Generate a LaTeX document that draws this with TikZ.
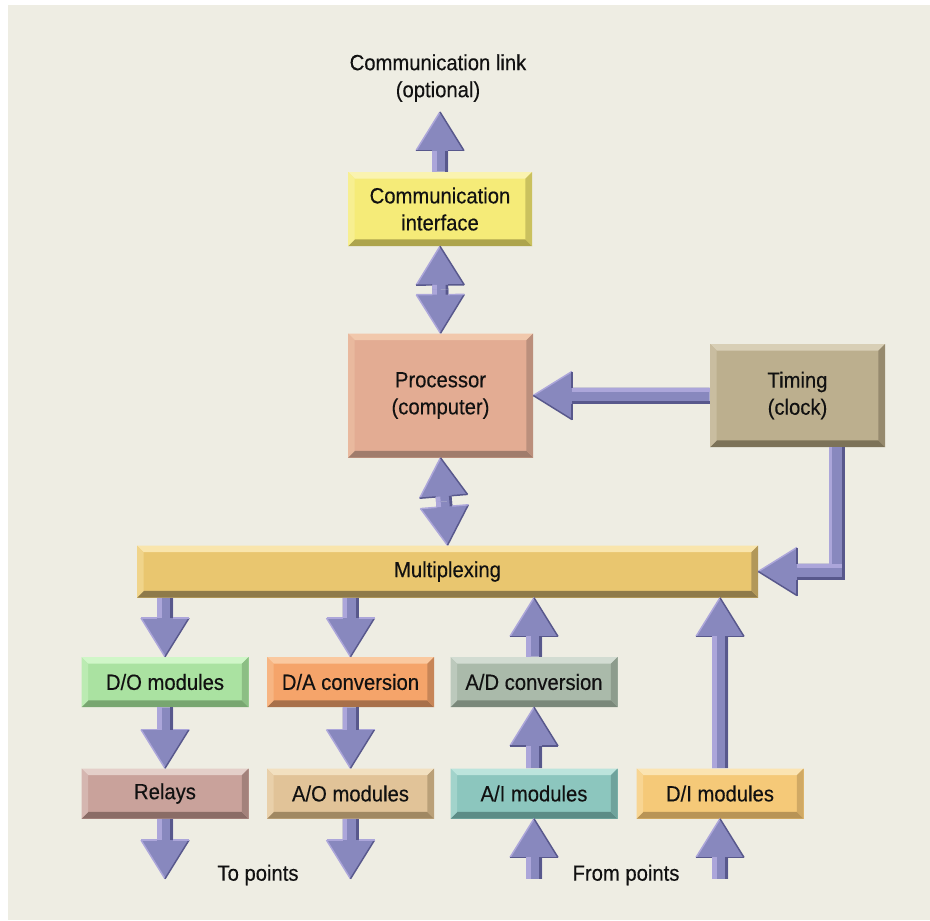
\documentclass[tikz,border=0pt]{standalone}
\usepackage{fontspec}
\setmainfont{Liberation Sans}[FakeStretch=0.92, FakeBold=0.35]
\usetikzlibrary{calc}

% palette
\definecolor{bg}{HTML}{EEEDE3}
\definecolor{ink}{HTML}{111111}
\definecolor{arrM}{HTML}{8888BE}
\definecolor{arrL}{HTML}{ACA6DA}
\definecolor{arrD}{HTML}{58588C}
\definecolor{commM}{HTML}{F5EB78}\definecolor{commL}{HTML}{FAF3B0}\definecolor{commD}{HTML}{ADA44C}
\definecolor{procM}{HTML}{E3AC93}\definecolor{procL}{HTML}{F1C8AC}\definecolor{procD}{HTML}{A07C6C}
\definecolor{timM}{HTML}{BCAF8E}\definecolor{timL}{HTML}{D8CFB6}\definecolor{timD}{HTML}{7C7258}
\definecolor{muxM}{HTML}{E9C66F}\definecolor{muxL}{HTML}{F9E5AC}\definecolor{muxD}{HTML}{8E7A4A}
\definecolor{doM}{HTML}{AAE2A1}\definecolor{doL}{HTML}{D0F6C8}\definecolor{doD}{HTML}{78A670}
\definecolor{daM}{HTML}{F5A46A}\definecolor{daL}{HTML}{FAC9A0}\definecolor{daD}{HTML}{A8704A}
\definecolor{adM}{HTML}{AABAAA}\definecolor{adL}{HTML}{D2DCD2}\definecolor{adD}{HTML}{7A887A}
\definecolor{relM}{HTML}{C9A29B}\definecolor{relL}{HTML}{E4CFC9}\definecolor{relD}{HTML}{8A6C66}
\definecolor{aoM}{HTML}{E1C398}\definecolor{aoL}{HTML}{F2E0C0}\definecolor{aoD}{HTML}{A08862}
\definecolor{aiM}{HTML}{8CC6BE}\definecolor{aiL}{HTML}{BCE4DC}\definecolor{aiD}{HTML}{5C8C86}
\definecolor{diM}{HTML}{F5C978}\definecolor{diL}{HTML}{FBE4B2}\definecolor{diD}{HTML}{B89456}

\newcommand\boxfont{\fontsize{16.5}{20.25}\selectfont}

\tikzset{
  % bevelled block: #1 face, #2 top bevel, #3 bottom bevel
  bevelbox/.style n args={3}{
    fill=#1, inner sep=0pt, align=center, font=\boxfont, text=ink,
    minimum width=125.25pt, minimum height=37.5pt,
    path picture={
      \fill[#2] (path picture bounding box.north west) -- (path picture bounding box.north east)
        -- ([shift={(-5pt,-5pt)}]path picture bounding box.north east)
        -- ([shift={(5pt,-5pt)}]path picture bounding box.north west) -- cycle;
      \fill[#3] (path picture bounding box.south west) -- (path picture bounding box.south east)
        -- ([shift={(-5pt,5pt)}]path picture bounding box.south east)
        -- ([shift={(5pt,5pt)}]path picture bounding box.south west) -- cycle;
      \fill[#2!45!#1] (path picture bounding box.north west)
        -- ([shift={(5pt,-5pt)}]path picture bounding box.north west)
        -- ([shift={(5pt,5pt)}]path picture bounding box.south west)
        -- (path picture bounding box.south west) -- cycle;
      \fill[#3!60!#1] (path picture bounding box.north east)
        -- ([shift={(-5pt,-5pt)}]path picture bounding box.north east)
        -- ([shift={(-5pt,5pt)}]path picture bounding box.south east)
        -- (path picture bounding box.south east) -- cycle;
    }},
  label text/.style={font=\boxfont, text=ink, inner sep=0pt, align=center},
  arrowfill/.style={fill=arrM},
  arrowlight/.style={fill=arrL, draw=none},
  arrowdark/.style={fill=arrD, draw=none},
}

% block arrow from #1 to tip #2; #3 = angle of the lit side, #4 = its opposite,
% #5 = colour of the edge along the base of the head
\newcommand\blockarrow[5]{%
  \coordinate (bahb) at ($(#2)!29pt!(#1)$);
  \fill[arrowfill] ($(#1)!6pt!#3:(#2)$) -- ($(bahb)!6pt!#4:(#1)$) -- ($(bahb)!18pt!#4:(#1)$)
    -- (#2) -- ($(bahb)!18pt!#3:(#1)$) -- ($(bahb)!6pt!#3:(#1)$) -- ($(#1)!6pt!#4:(#2)$) -- cycle;
  \fill[arrowlight] ($(#1)!6pt!#3:(#2)$) -- ($(bahb)!6pt!#4:(#1)$) -- ($(bahb)!2.5pt!#4:(#1)$)
    -- ($(#1)!2.5pt!#3:(#2)$) -- cycle;
  \fill[arrowdark] ($(#1)!6pt!#4:(#2)$) -- ($(bahb)!6pt!#3:(#1)$) -- ($(bahb)!4pt!#3:(#1)$)
    -- ($(#1)!4pt!#4:(#2)$) -- cycle;
  \draw[arrL, line width=1.1pt] ($(bahb)!18pt!#4:(#1)$) -- (#2);
  \draw[arrD, line width=1.1pt] ($(bahb)!18pt!#3:(#1)$) -- (#2);
  \draw[#5, line width=1.1pt] ($(bahb)!6pt!#4:(#1)$) -- ($(bahb)!18pt!#4:(#1)$)
    ($(bahb)!6pt!#3:(#1)$) -- ($(bahb)!18pt!#3:(#1)$);
}
\newcommand\uparrowblock[2]{\blockarrow{#1}{#2}{90}{-90}{arrD}}
\newcommand\downarrowblock[2]{\blockarrow{#1}{#2}{-90}{90}{arrL}}
\newcommand\leftarrowblock[2]{\blockarrow{#1}{#2}{-90}{90}{arrD}}

\begin{document}
\begin{tikzpicture}[x=0.75pt, y=-0.75pt]
  % canvas
  \useasboundingbox (0,0) rectangle (930,920);
  \fill[white] (0,0) rectangle (930,920);
  \fill[bg] (8,5) rectangle (930,920);

  % blocks
  \node[bevelbox={commM}{commL}{commD}, minimum width=138pt, minimum height=55.5pt]
    (comm) at (440,209) {Communication\\interface};
  \node[bevelbox={procM}{procL}{procD}, minimum width=138.75pt, minimum height=93pt]
    (proc) at (440.5,395.5) {Processor\\(computer)};
  \node[bevelbox={timM}{timL}{timD}, minimum width=131.25pt, minimum height=77.25pt]
    (timing) at (797.5,395.5) {Timing\\(clock)};
  \node[bevelbox={muxM}{muxL}{muxD}, minimum width=465.75pt, minimum height=39pt]
    (mux) at (447.5,571.5) {Multiplexing};

  \node[bevelbox={doM}{doL}{doD}] (do) at (165,682) {D/O modules};
  \node[bevelbox={daM}{daL}{daD}] (da) at (350.5,682) {D/A conversion};
  \node[bevelbox={adM}{adL}{adD}] (ad) at (534,682) {A/D conversion};

  \node[bevelbox={relM}{relL}{relD}] (relays) at (165,793.5) {Relays};
  \node[bevelbox={aoM}{aoL}{aoD}] (ao) at (350.5,793.5) {A/O modules};
  \node[bevelbox={aiM}{aiL}{aiD}] (ai) at (534,793.5) {A/I modules};
  \node[bevelbox={diM}{diL}{diD}] (di) at (720,793.5) {D/I modules};

  % free labels
  \node[label text] (link) at (438,78) {Communication link\\(optional)};
  \node[label text] (topoints) at (258,875) {To points};
  \node[label text] (frompoints) at (626,875) {From points};

  % helper points
  \coordinate (linktip) at (440,112);
  \coordinate (m1) at ($(comm.south)!0.5!(proc.north)$);
  \coordinate (m2) at ($(proc.south)!0.5!(mux.north)$);
  \coordinate (doin) at (do.north |- mux.south);
  \coordinate (dain) at (da.north |- mux.south);
  \coordinate (adout) at (ad.north |- mux.south);
  \coordinate (diout) at (di.north |- mux.south);
  \coordinate (relout) at ([yshift=-45pt]relays.south);
  \coordinate (aoout) at ([yshift=-45pt]ao.south);
  \coordinate (aiin) at ([yshift=-45pt]ai.south);
  \coordinate (diin) at ([yshift=-45pt]di.south);
  \coordinate (tdrop) at ([xshift=29.6pt]timing.south);
  \coordinate (tcorner) at (tdrop |- mux.east);
  \coordinate (tturn) at ([xshift=6pt]tcorner);

  % processor link chain
  \uparrowblock{comm.north}{linktip}
  \uparrowblock{m1}{comm.south}
  \downarrowblock{m1}{proc.north}
  \uparrowblock{m2}{proc.south}
  \downarrowblock{m2}{mux.north}

  % clock feeds
  \leftarrowblock{timing.west}{proc.east}
  \fill[arrowfill] ([xshift=-6pt]tdrop) rectangle ([shift={(6pt,-6pt)}]tcorner);
  \leftarrowblock{tturn}{mux.east}
  \fill[arrowlight] ([xshift=-6pt]tdrop) rectangle ([shift={(-3.5pt,6pt)}]tcorner);
  \fill[arrowdark] ([xshift=4pt]tdrop) rectangle ([shift={(6pt,-6pt)}]tcorner);

  % outputs
  \downarrowblock{doin}{do.north}
  \downarrowblock{dain}{da.north}
  \downarrowblock{do.south}{relays.north}
  \downarrowblock{da.south}{ao.north}
  \downarrowblock{relays.south}{relout}
  \downarrowblock{ao.south}{aoout}

  % inputs
  \uparrowblock{ad.north}{adout}
  \uparrowblock{di.north}{diout}
  \uparrowblock{ai.north}{ad.south}
  \uparrowblock{aiin}{ai.south}
  \uparrowblock{diin}{di.south}
\end{tikzpicture}
\end{document}
